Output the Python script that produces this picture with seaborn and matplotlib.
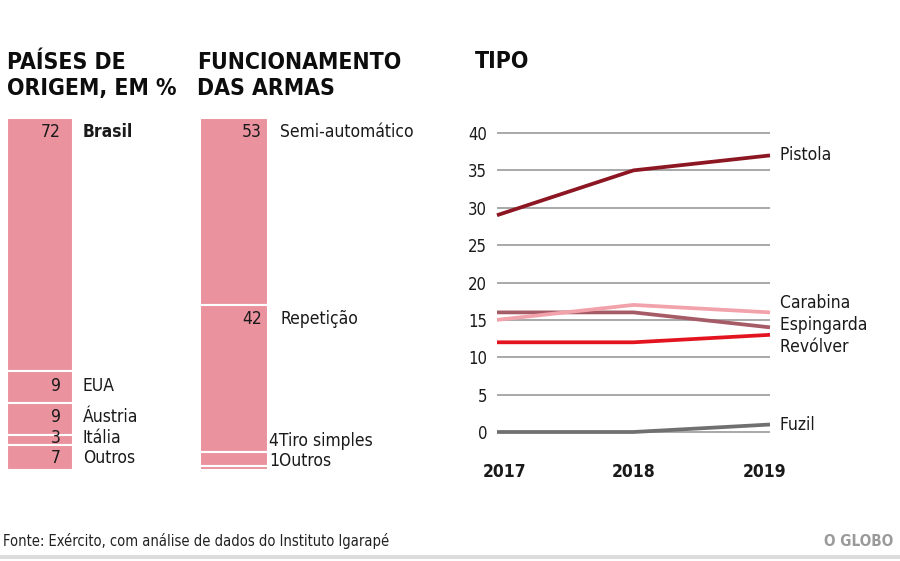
import numpy as np
import pandas as pd
import matplotlib
matplotlib.use("Agg")
import matplotlib.pyplot as plt
import matplotlib.transforms as mtransforms
from matplotlib.patches import Rectangle
import seaborn as sns

# ---------------- data ----------------
origem_labels = ["Brasil", "EUA", "Áustria", "Itália", "Outros"]
origem_values = [72, 9, 9, 3, 7]

func_labels = ["Semi-automático", "Repetição", "Tiro simples", "Outros"]
func_values = [53, 42, 4, 1]

years = [2017, 2018, 2019]
tipo_names = ["Pistola", "Carabina", "Espingarda", "Revólver", "Fuzil"]
pistola = [29, 35, 37]
carabina = [15, 17, 16]
espingarda = [16, 16, 14]
revolver = [12, 12, 13]
fuzil = [0, 0, 1]
y_ticks = [0, 5, 10, 15, 20, 25, 30, 35, 40]

title_origem = ["PAÍSES DE", "ORIGEM, EM %"]
title_func = ["FUNCIONAMENTO", "DAS ARMAS"]
title_tipo = "TIPO"
fonte = "Fonte: Exército, com análise de dados do Instituto Igarapé"
marca = "O GLOBO"

# ---------------- style ----------------
sns.set_theme(style="white")
plt.rcParams["font.family"] = ["Liberation Sans Narrow", "DejaVu Sans"]
plt.rcParams["font.stretch"] = "condensed"

W, H = 900, 561
fig = plt.figure(figsize=(W / 100, H / 100), dpi=100)
fig.patch.set_facecolor("white")

def fx(x):
    return x / W

def fy(y):
    return 1 - y / H

PINK = "#EA939E"
TXT = "#1a1a1a"

# ---------------- titles ----------------
tkw = dict(fontsize=16.5, fontweight="heavy", color="#0d0d0d", va="baseline", ha="left")
fig.text(fx(7), fy(69), title_origem[0], **tkw)
fig.text(fx(7), fy(95), title_origem[1], **tkw)
fig.text(fx(197), fy(69), title_func[0], **tkw)
fig.text(fx(197), fy(95), title_func[1], **tkw)
fig.text(fx(475), fy(68), title_tipo, **tkw)


def stacked(ax, labels, values, num_inset_px, lab_gap_px, bold_first, outside_small):
    ax.set_xlim(-0.5, 0.5)
    ax.set_ylim(100, 0)
    ax.axis("off")
    bottoms = np.concatenate([[0], np.cumsum(values)[:-1]])
    ax.bar([0] * len(values), values, bottom=bottoms, width=1.0,
           color=PINK, edgecolor="white", linewidth=1.5)
    # label positions with de-overlap from bottom up
    px_per_unit = ax.get_position().height * H / 100
    gap = 20 / px_per_unit
    ys = [min(b + v / 2, b + 4) for b, v in zip(bottoms, values)]
    ys[-1] = min(ys[-1], 97.5)
    for i in range(len(ys) - 2, -1, -1):
        ys[i] = min(ys[i], ys[i + 1] - gap)
    w_px = ax.get_position().width * W
    for i, (lab, v, y) in enumerate(zip(labels, values, ys)):
        weight = "bold" if (bold_first and i == 0) else "normal"
        if outside_small and v < 5:
            ax.text(1.0 + 1 / w_px, y, f"{v}{lab}", transform=ax.get_yaxis_transform(),
                    ha="left", va="center", fontsize=12.5, color=TXT, clip_on=False)
        else:
            ax.text(1.0 - num_inset_px / w_px, y, f"{v}", transform=ax.get_yaxis_transform(),
                    ha="right", va="center", fontsize=12.5, color=TXT, clip_on=False)
            ax.text(1.0 + lab_gap_px / w_px, y, lab, transform=ax.get_yaxis_transform(),
                    ha="left", va="center", fontsize=12.5, color=TXT,
                    fontweight=weight, clip_on=False)


ax1 = fig.add_axes([fx(7), fy(470), 66 / W, 352 / H])
stacked(ax1, origem_labels, origem_values, 12, 10, True, False)

ax2 = fig.add_axes([fx(200), fy(470), 68 / W, 352 / H])
stacked(ax2, func_labels, func_values, 6, 12, False, True)

# ---------------- line chart ----------------
ax3 = fig.add_axes([fx(497), fy(432), 273 / W, 299 / H])
series = [pistola, carabina, espingarda, revolver, fuzil]
df = pd.DataFrame({
    "Ano": np.tile(years, len(tipo_names)),
    "Valor": np.concatenate(series),
    "Tipo": np.repeat(tipo_names, len(years)),
})
palette = {"Pistola": "#8C1622", "Carabina": "#F2A2AB", "Espingarda": "#A65C66",
           "Revólver": "#E3141F", "Fuzil": "#707070"}

for yv in y_ticks:
    ax3.axhline(yv, color="#9a9a9a", lw=1.2, zorder=0)

sns.lineplot(data=df, x="Ano", y="Valor", hue="Tipo", palette=palette,
             hue_order=["Fuzil", "Revólver", "Espingarda", "Carabina", "Pistola"],
             linewidth=2.7, legend=False, ax=ax3, clip_on=False)
for ln in ax3.get_lines():
    ln.set_clip_on(False)
    ln.set_solid_capstyle("butt")

ax3.set_xlim(2017, 2019)
ax3.set_ylim(0, 40)
ax3.set_xticks(years)
ax3.set_yticks(y_ticks)
ax3.set_xlabel("")
ax3.set_ylabel("")
for s in ax3.spines.values():
    s.set_visible(False)
ax3.tick_params(axis="y", length=0, pad=7, labelsize=12, labelcolor=TXT)
ax3.tick_params(axis="x", length=0, pad=22, labelsize=12.5, labelcolor=TXT)
for t in ax3.get_yticklabels():
    t.set_fontweight("medium")
xt = ax3.get_xticklabels()
for t in xt:
    t.set_fontweight("bold")
xt[0].set_transform(xt[0].get_transform() + mtransforms.ScaledTranslation(8 / 100, 0, fig.dpi_scale_trans))
xt[-1].set_transform(xt[-1].get_transform() + mtransforms.ScaledTranslation(-5 / 100, 0, fig.dpi_scale_trans))

# end labels with simple de-overlap (data units)
ends = [s[-1] for s in series]
order = sorted(range(len(tipo_names)), key=lambda i: -ends[i])
gap = 2.9
clusters = [[i] for i in order]
pos = {i: float(ends[i]) for i in order}
changed = True
while changed:
    changed = False
    newc = []
    for c in clusters:
        if newc:
            prev = newc[-1]
            prev_bottom = pos[prev[-1]]
            top = pos[c[0]]
            if prev_bottom - top < gap:
                merged = prev + c
                mean = np.mean([ends[k] for k in merged])
                n = len(merged)
                for j, k in enumerate(merged):
                    pos[k] = mean + gap * ((n - 1) / 2 - j)
                newc[-1] = merged
                changed = True
                continue
        newc.append(c)
    clusters = newc

for i in order:
    ax3.text(1.0, pos[i], "  " + tipo_names[i], transform=ax3.get_yaxis_transform(),
             ha="left", va="center", fontsize=12.5, color=TXT, clip_on=False)

# ---------------- footer ----------------
fig.text(fx(3), fy(541), fonte, fontsize=10.5, color="#222222", ha="left", va="center")
fig.text(fx(893), fy(541), marca, fontsize=11, color="#9a9a9a", ha="right", va="center",
         fontweight="bold")
fig.patches.append(Rectangle((0, fy(559)), 1, 4 / H, transform=fig.transFigure,
                             facecolor="#dcdcdc", edgecolor="none"))

fig.savefig("out.png", dpi=100, facecolor="white")
